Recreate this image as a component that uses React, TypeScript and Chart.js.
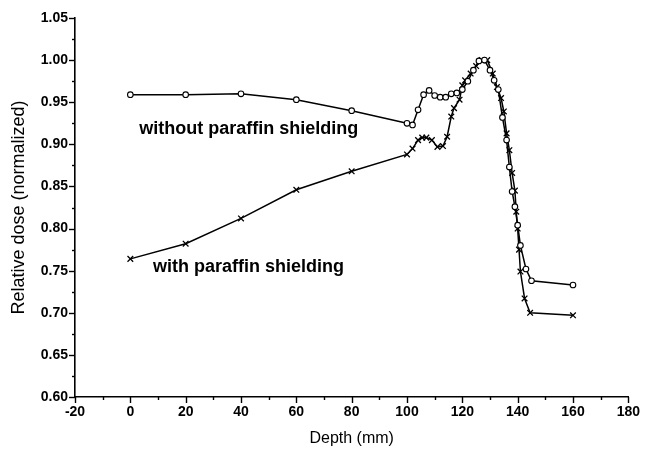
import React, { useEffect, useRef } from "react";
import { Chart, registerables } from "chart.js";

Chart.register(...registerables);

const withoutDepth = [0, 20, 40, 60, 80, 100, 102, 104, 106, 108, 110, 112, 114, 116, 118, 120, 122, 124, 126, 128, 130, 131.5, 133, 134.5, 136, 137, 138, 139, 140, 141, 143, 145, 160];
const withoutDose = [0.959, 0.959, 0.96, 0.953, 0.94, 0.925, 0.923, 0.941, 0.959, 0.964, 0.958, 0.956, 0.956, 0.96, 0.961, 0.965, 0.975, 0.988, 0.999, 1.0, 0.988, 0.976, 0.965, 0.932, 0.905, 0.873, 0.844, 0.826, 0.804, 0.78, 0.752, 0.738, 0.733];

const withDepth = [0, 20, 40, 60, 80, 100, 102, 104, 105.5, 107, 109, 111, 113, 114.5, 116, 117, 119, 120, 121, 123, 125, 127, 129, 131, 132.5, 134, 135, 136, 137, 138, 139, 139.5, 140, 140.5, 141, 142.5, 144.5, 160];
const withDose = [0.764, 0.782, 0.812, 0.846, 0.868, 0.888, 0.895, 0.905, 0.908, 0.908, 0.905, 0.897, 0.898, 0.909, 0.933, 0.943, 0.953, 0.97, 0.976, 0.984, 0.993, 1.0, 1.0, 0.984, 0.968, 0.955, 0.939, 0.913, 0.893, 0.866, 0.845, 0.82, 0.8, 0.775, 0.749, 0.717, 0.7, 0.697];

const seriesLabels = ["without paraffin shielding", "with paraffin shielding"];
const xAxisTitle = "Depth (mm)";
const yAxisTitle = "Relative dose (normalized)";
const xMin = -20, xMax = 180, xStep = 10, xMajor = 20;
const yMin = 0.6, yMax = 1.05, yStep = 0.025, yMajor = 0.05;

// annotation anchors in data units (left edge, vertical centre)
const annotations = [
  { text: seriesLabels[0], x: 3.2, y: 0.918 },
  { text: seriesLabels[1], x: 8.2, y: 0.754 },
];

const FONT = "'Liberation Sans', Arial, sans-serif";

const isMult = (v: number, m: number) => Math.abs(Math.round(v / m) - v / m) < 1e-6;

const tickPlugin = {
  id: "customTicks",
  afterDraw(chart: any) {
    const ctx = chart.ctx;
    const xs = chart.scales.x;
    const ys = chart.scales.y;
    ctx.save();
    ctx.strokeStyle = "#000";
    ctx.lineWidth = 1.4;
    const bottom = chart.chartArea.bottom;
    const left = chart.chartArea.left;
    xs.ticks.forEach((t: any) => {
      const px = Math.round(xs.getPixelForValue(t.value)) + 0.5;
      const len = isMult(t.value, xMajor) ? 6 : 3;
      ctx.beginPath();
      ctx.moveTo(px, bottom);
      ctx.lineTo(px, bottom + len);
      ctx.stroke();
    });
    ys.ticks.forEach((t: any) => {
      const py = Math.round(ys.getPixelForValue(t.value)) + 0.5;
      const len = isMult(t.value, yMajor) ? 6 : 3;
      ctx.beginPath();
      ctx.moveTo(left, py);
      ctx.lineTo(left - len, py);
      ctx.stroke();
    });
    ctx.fillStyle = "#000";
    ctx.font = `bold 18px ${FONT}`;
    ctx.textAlign = "left";
    ctx.textBaseline = "middle";
    annotations.forEach((a) => {
      ctx.fillText(a.text, xs.getPixelForValue(a.x), ys.getPixelForValue(a.y));
    });
    ctx.restore();
  },
};

export default function App() {
  const ref = useRef<HTMLCanvasElement | null>(null);
  useEffect(() => {
    document.body.style.margin = "0";
    const canvas = ref.current!;
    const chart = new Chart(canvas, {
      type: "scatter",
      data: {
        datasets: [
          {
            label: seriesLabels[0],
            data: withoutDepth.map((x, i) => ({ x, y: withoutDose[i] })),
            showLine: true,
            borderColor: "#000",
            borderWidth: 1.5,
            pointStyle: "circle",
            pointRadius: 2.8,
            pointBorderWidth: 1.1,
            pointBackgroundColor: "#fff",
            pointBorderColor: "#000",
          },
          {
            label: seriesLabels[1],
            data: withDepth.map((x, i) => ({ x, y: withDose[i] })),
            showLine: true,
            borderColor: "#000",
            borderWidth: 1.5,
            pointStyle: "crossRot",
            pointRadius: 4,
            pointBorderWidth: 1.3,
            pointBackgroundColor: "#000",
            pointBorderColor: "#000",
          },
        ],
      },
      options: {
        responsive: false,
        animation: false,
        layout: { padding: { left: 0, right: 17, top: 18, bottom: 0 } },
        plugins: { legend: { display: false }, tooltip: { enabled: false } },
        scales: {
          x: {
            type: "linear",
            min: xMin,
            max: xMax,
            afterFit: (s: any) => { s.height = 56; },
            ticks: {
              stepSize: xStep,
              autoSkip: false,
              maxRotation: 0,
              padding: 7,
              color: "#000",
              font: { family: FONT, size: 14, weight: "bold" },
              callback: (v: any) => (isMult(Number(v), xMajor) ? String(Math.round(Number(v))) : ""),
            },
            grid: { display: true, drawOnChartArea: false, drawTicks: false },
            border: { display: true, color: "#000", width: 1.6 },
            title: { display: true, text: xAxisTitle, color: "#000", font: { family: FONT, size: 16 }, padding: { top: 4, bottom: 5 } },
          },
          y: {
            type: "linear",
            min: yMin,
            max: yMax,
            afterFit: (s: any) => { s.width = 75; },
            ticks: {
              stepSize: yStep,
              autoSkip: false,
              padding: 7,
              color: "#000",
              font: { family: FONT, size: 14, weight: "bold" },
              callback: (v: any) => (isMult(Number(v), yMajor) ? Number(v).toFixed(2) : ""),
            },
            grid: { display: true, drawOnChartArea: false, drawTicks: false },
            border: { display: true, color: "#000", width: 1.6 },
            title: { display: true, text: yAxisTitle, color: "#000", font: { family: FONT, size: 18 }, padding: { top: 8, bottom: 4 } },
          },
        },
      },
      plugins: [tickPlugin],
    } as any);
    return () => chart.destroy();
  }, []);
  return (
    <div style={{ width: 647, height: 453 }}>
      <canvas ref={ref} width={647} height={453} />
    </div>
  );
}
